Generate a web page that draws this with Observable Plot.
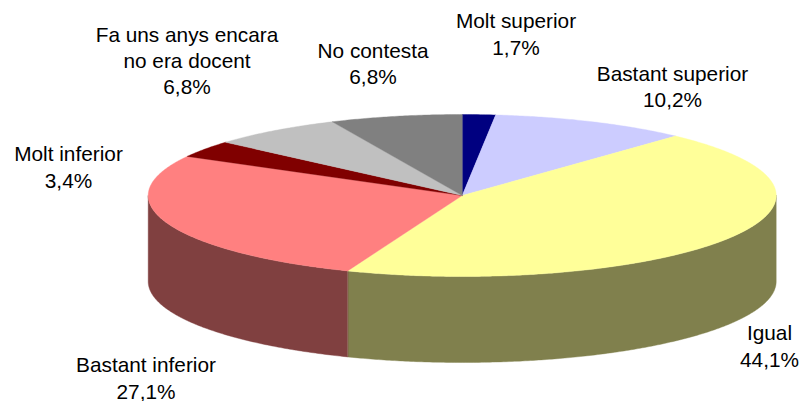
<!DOCTYPE html>
<html><head><meta charset="utf-8">
<script src="https://cdn.jsdelivr.net/npm/d3@7"></script>
<script src="https://cdn.jsdelivr.net/npm/@observablehq/plot@0.6"></script>
<style>html,body{margin:0;padding:0;background:#fff;overflow:hidden}svg{display:block}</style>
</head><body><div id="chart"></div>
<script>
const categories = ["Molt superior","Bastant superior","Igual","Bastant inferior","Molt inferior","Fa uns anys encara\nno era docent","No contesta"];
const percents = [1.7,10.2,44.1,27.1,3.4,6.8,6.8];
const topColors = ["#000080","#ccccff","#ffff99","#ff8080","#800000","#c0c0c0","#808080"];
const wallColors = ["#000040","#666680","#80804d","#804040","#400000","#606060","#404040"];
const labelX = [515.5,672,769,145.5,68,186.5,372.5];
const labelY = [32.5,85,344.5,376.5,165.5,59,62];

const W = 799, H = 401, cx = 461.7, cy = 195, rx = 314, ry = 81, depth = 86;
const total = d3.sum(percents);
let cum = 0;
const slices = percents.map((p, i) => {
  const a0 = cum / total * 2 * Math.PI; cum += p;
  return {i, a0, a1: cum / total * 2 * Math.PI};
});
const rad = d => d * Math.PI / 180;
const pt = (t, dy = 0) => ({x: cx + rx * Math.sin(t), y: cy - ry * Math.cos(t) + dy});
const arc = (a0, a1, dy = 0) => {
  const n = Math.max(2, Math.ceil((a1 - a0) / rad(0.5)));
  return d3.range(n + 1).map(k => pt(a0 + (a1 - a0) * k / n, dy));
};
const tops = slices.flatMap(s => [{x: cx, y: cy}, ...arc(s.a0, s.a1)].map(p => ({...p, key: "t" + s.i, color: topColors[s.i]})));
const walls = slices.flatMap(s => {
  const a0 = Math.max(s.a0, Math.PI / 2), a1 = Math.min(s.a1, 3 * Math.PI / 2);
  if (a1 <= a0) return [];
  return [...arc(a0, a1), ...arc(a0, a1, depth).reverse()].map(p => ({...p, key: "w" + s.i, color: wallColors[s.i]}));
});
const labels = categories.map((c, i) => ({text: `${c}\n${percents[i].toFixed(1).replace(".", ",")}%`, x: labelX[i], y: labelY[i]}));
const shape = data => Plot.line(data, {x: "x", y: "y", z: "key", fill: "color", stroke: "color", strokeWidth: 0.4, curve: "linear-closed"});

document.getElementById("chart").append(Plot.plot({
  width: W, height: H, margin: 0,
  x: {domain: [0, W], range: [0, W], axis: null},
  y: {domain: [0, H], range: [0, H], axis: null},
  color: {type: "identity"},
  style: {background: "#fff"},
  marks: [
    shape(walls),
    shape(tops),
    Plot.text(labels, {x: "x", y: "y", text: "text", fill: "#000", fontSize: 20.8, lineHeight: 1.27, fontFamily: "Liberation Sans, Arial, sans-serif", textAnchor: "middle"})
  ]
}));
</script></body></html>
